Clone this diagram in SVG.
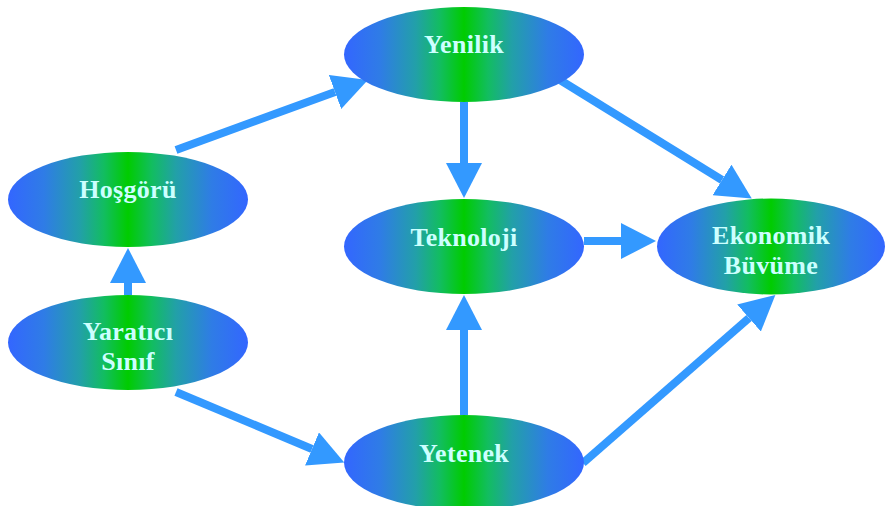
<svg xmlns="http://www.w3.org/2000/svg" width="885" height="506" viewBox="0 0 885 506">
  <defs>
    <linearGradient id="g" x1="0" y1="0" x2="1" y2="0">
      <stop offset="0" stop-color="#3366ff"/>
      <stop offset="0.15" stop-color="#2f7ce6"/>
      <stop offset="0.3" stop-color="#22a0a8"/>
      <stop offset="0.4" stop-color="#12bd60"/>
      <stop offset="0.5" stop-color="#00cc00"/>
      <stop offset="0.6" stop-color="#12bd60"/>
      <stop offset="0.7" stop-color="#22a0a8"/>
      <stop offset="0.85" stop-color="#2f7ce6"/>
      <stop offset="1" stop-color="#3366ff"/>
    </linearGradient>
    <marker id="ah" markerUnits="userSpaceOnUse" markerWidth="36" markerHeight="36" viewBox="0 0 36 36" refX="0" refY="18" orient="auto">
      <path d="M0,0 L35,18 L0,36 z" fill="#3399ff"/>
    </marker>
    <style>
      .n ellipse { fill: url(#g); }
      .n text { font-family: "Liberation Serif", "Times New Roman", serif; font-weight: bold; font-size: 26px; letter-spacing: 0.3px; fill: #ccffff; text-anchor: middle; }
      .c line { stroke: #3399ff; stroke-width: 8; marker-end: url(#ah); }
    </style>
  </defs>
  <g id="connectors" class="c">
    <line x1="128" y1="295" x2="128" y2="283"/>
    <line x1="176" y1="150" x2="335" y2="92"/>
    <line x1="464" y1="102" x2="464" y2="163"/>
    <line x1="560" y1="80" x2="722" y2="180"/>
    <line x1="584" y1="241" x2="621" y2="241"/>
    <line x1="464" y1="415" x2="464" y2="330"/>
    <line x1="583" y1="463" x2="749" y2="318"/>
    <line x1="176" y1="392" x2="312" y2="449"/>
  </g>
  <g id="hosgoru" class="n">
    <ellipse cx="128" cy="199.5" rx="120" ry="47.5"/>
    <text x="128" y="198">Hoşgörü</text>
  </g>
  <g id="yaratici" class="n">
    <ellipse cx="128" cy="342.5" rx="120" ry="47.5"/>
    <text x="128" y="340">Yaratıcı</text>
    <text x="128" y="370">Sınıf</text>
  </g>
  <g id="yenilik" class="n">
    <ellipse cx="464" cy="54.5" rx="120" ry="47.5"/>
    <text x="464" y="53">Yenilik</text>
  </g>
  <g id="teknoloji" class="n">
    <ellipse cx="464" cy="246.5" rx="120" ry="47.5"/>
    <text x="464" y="246">Teknoloji</text>
  </g>
  <g id="ekonomik" class="n">
    <ellipse cx="771" cy="246.5" rx="114" ry="48"/>
    <text x="771" y="244">Ekonomik</text>
    <text x="771" y="274">Büvüme</text>
  </g>
  <g id="yetenek" class="n">
    <ellipse cx="464" cy="462.5" rx="120" ry="47.5"/>
    <text x="464" y="462">Yetenek</text>
  </g>
</svg>
